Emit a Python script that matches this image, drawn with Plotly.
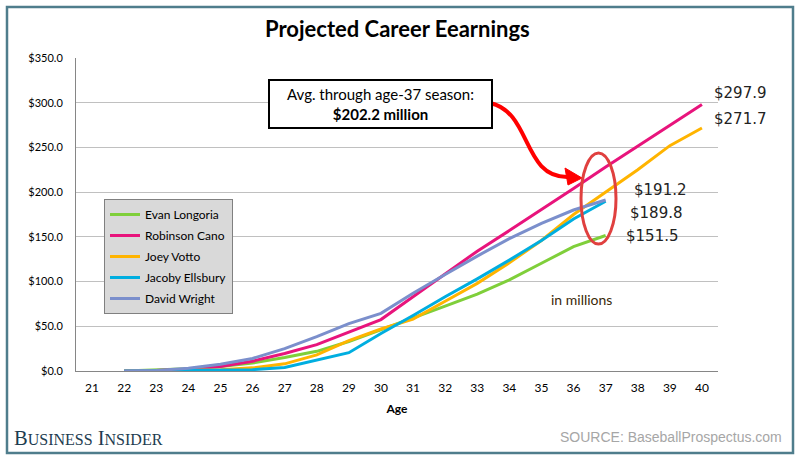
import plotly.graph_objects as go

ages = list(range(22, 41))
players = ["Evan Longoria", "Robinson Cano", "Joey Votto", "Jacoby Ellsbury", "David Wright"]
colors = ["#7fcf3a", "#e8147c", "#ffb400", "#00aee0", "#7b8fcc"]

# cumulative earnings ($M), ages 22..40 (None = no projection)
longoria = [0, 1.0, 2.5, 5.0, 9.0, 15.0, 22.0, 33.0, 46.0, 59.0, 72.5, 86.0, 102.0, 120.5, 139.0, 151.5, None, None, None]
cano     = [0, 0.5, 2.0, 5.0, 11.0, 19.5, 29.5, 43.5, 57.5, 83.0, 109.0, 134.0, 157.0, 180.0, 204.0, 228.0, 251.0, 275.0, 297.9]
votto    = [0, 0.3, 0.8, 1.5, 3.5, 8.0, 18.0, 34.0, 47.0, 58.0, 78.0, 98.0, 121.0, 146.0, 175.0, 200.0, 225.0, 252.0, 271.7]
ellsbury = [0, 0.2, 0.5, 0.8, 1.5, 4.0, 12.0, 20.5, 42.0, 62.0, 83.0, 103.0, 124.0, 146.0, 170.0, 189.8, None, None, None]
wright   = [0, 0.5, 3.0, 7.5, 14.0, 25.0, 38.5, 53.0, 64.5, 87.0, 108.0, 128.5, 148.0, 165.0, 180.0, 191.2, None, None, None]
series = [longoria, cano, votto, ellsbury, wright]

end_labels = [("$297.9", 40, 297.9, 10, 12), ("$271.7", 40, 271.7, 10, 9),
              ("$191.2", 37, 191.2, 26, 10), ("$189.8", 37, 189.8, 22, -12),
              ("$151.5", 37, 151.5, 18, 0)]

yticks = [0, 50, 100, 150, 200, 250, 300, 350]
ytick_text = ["$%.1f" % v for v in yticks]
xticks = list(range(21, 41))

# plot geometry in pixels (for decorations)
L, R, T, B = 76, 718, 58, 371
W, H = 800, 459

def px_to_paper(px, py):
    return (px - L) / (R - L), (B - py) / (B - T)

def px_to_data(px, py):
    return 20.5 + (px - L) / (R - L) * 20, (B - py) / (B - T) * 350

fig = go.Figure()
for name, vals, c in zip(players, series, colors):
    fig.add_trace(go.Scatter(x=ages, y=vals, mode="lines", name=name, legendgroup=name,
                             line=dict(color=c, width=3), connectgaps=False))

annotations = []
for txt, ax, ay, xs, ys in end_labels:
    annotations.append(dict(x=ax, y=ay, xref="x", yref="y", text=txt, showarrow=False,
                            xanchor="left", yanchor="middle", xshift=xs, yshift=ys,
                            font=dict(family="DejaVu Sans", size=15, color="#222222")))

annotations.append(dict(x=0.5, y=(B - 28) / (B - T), xref="paper", yref="paper",
                        text="<b>Projected Career Eearnings</b>", showarrow=False,
                        font=dict(family="Lato", size=22, color="#000000"), xanchor="center", yanchor="middle"))

ax_, ay_ = px_to_paper(380, 104)
annotations.append(dict(x=ax_, y=ay_, xref="paper", yref="paper",
                        text="Avg. through age-37 season:<br><b>$202.2 million</b>", showarrow=False,
                        font=dict(family="Lato", size=15, color="#000000"), align="center",
                        xanchor="center", yanchor="middle",
                        bgcolor="#ffffff", bordercolor="#000000", borderwidth=2,
                        borderpad=4, width=213))

annotations.append(dict(x=35.24, y=80, xref="x", yref="y", text="in millions", showarrow=False,
                        font=dict(family="Lato", size=14, color="#3a2808"), xanchor="left"))

bx, by = px_to_paper(12, 438)
annotations.append(dict(x=bx, y=by, xref="paper", yref="paper",
                        text="B<span style='font-size:16px'>USINESS</span> I<span style='font-size:16px'>NSIDER</span>",
                        showarrow=False, xanchor="left", yanchor="middle",
                        font=dict(family="Liberation Serif", size=20.5, color="#1d3c50")))
sx, sy = px_to_paper(784, 437)
annotations.append(dict(x=sx, y=sy, xref="paper", yref="paper", text="SOURCE: BaseballProspectus.com",
                        showarrow=False, xanchor="right", yanchor="middle",
                        font=dict(family="Liberation Sans", size=14, color="#a6a6a6")))

shapes = []
# outer frame
fx0, fy0 = px_to_paper(7, 453)
fx1, fy1 = px_to_paper(793, 7)
shapes.append(dict(type="rect", xref="paper", yref="paper", x0=fx0, y0=fy0, x1=fx1, y1=fy1,
                   line=dict(color="#4f7d8c", width=2.5), layer="below"))

# curved red arrow
pts = [(490, 103), (532, 112), (522, 178), (568, 177)]
dp = [px_to_data(*p) for p in pts]
path = "M %f,%f C %f,%f %f,%f %f,%f" % (dp[0][0], dp[0][1], dp[1][0], dp[1][1], dp[2][0], dp[2][1], dp[3][0], dp[3][1])
shapes.append(dict(type="path", xref="x", yref="y", path=path, line=dict(color="#ff0000", width=4)))
head = [px_to_data(565, 168), px_to_data(582, 178), px_to_data(568, 185)]
hpath = "M %f,%f L %f,%f L %f,%f Z" % (head[0][0], head[0][1], head[1][0], head[1][1], head[2][0], head[2][1])
shapes.append(dict(type="path", xref="x", yref="y", path=hpath, fillcolor="#ff0000", line=dict(color="#ff0000", width=1)))

# red ellipse
e0 = px_to_data(581, 244)
e1 = px_to_data(616, 153)
shapes.append(dict(type="circle", xref="x", yref="y", x0=e0[0], y0=e0[1], x1=e1[0], y1=e1[1],
                   line=dict(color="#e0403f", width=3)))

lx, ly = px_to_paper(104, 199)
fig.update_layout(
    width=W, height=H,
    margin=dict(l=L, r=W - R, t=T, b=H - B),
    paper_bgcolor="#ffffff", plot_bgcolor="#ffffff",
    showlegend=True,
    legend=dict(x=lx, y=ly, xanchor="left", yanchor="top", bgcolor="#d9d9d9",
                bordercolor="#808080", borderwidth=1, traceorder="grouped", tracegroupgap=2,
                font=dict(family="Lato", size=12, color="#000000")),
    xaxis=dict(range=[20.5, 40.5], tickmode="array", tickvals=xticks, ticktext=[str(v) for v in xticks],
               showgrid=False, zeroline=False, showline=True, linecolor="#868686", linewidth=1,
               ticks="", tickfont=dict(family="Lato", size=12, color="#000000"), ticklabelstandoff=6,
               title=dict(text="<b>Age</b>", font=dict(family="Lato", size=12, color="#000000"), standoff=10),
               fixedrange=True),
    yaxis=dict(range=[0, 350], tickmode="array", tickvals=yticks, ticktext=ytick_text,
               showgrid=True, gridcolor="#c0c0c0", gridwidth=1, zeroline=False,
               showline=True, linecolor="#868686", linewidth=1, ticks="",
               tickfont=dict(family="Lato", size=11, color="#000000"), ticklabelstandoff=10,
               fixedrange=True),
    annotations=annotations, shapes=shapes,
)

fig.write_html("out.html")
